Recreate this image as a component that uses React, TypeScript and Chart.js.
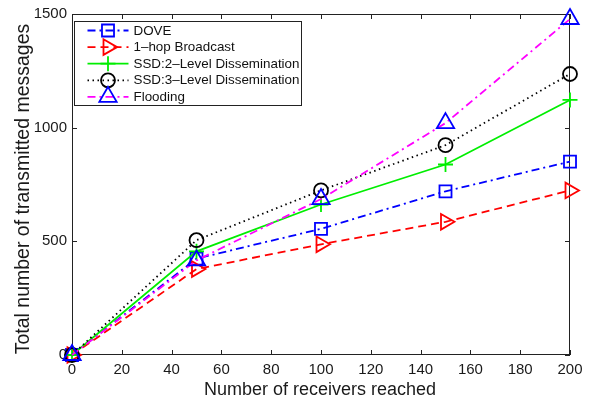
import React, { useEffect, useRef } from "react";
import Chart from "chart.js/auto";

const receivers = [0, 50, 100, 150, 200];
const doveMsgs = [0, 424, 555, 720, 851];
const oneHopMsgs = [0, 378, 487, 586, 724];
const ssd2Msgs = [0, 456, 662, 838, 1122];
const ssd3Msgs = [0, 505, 724, 923, 1236];
const floodingMsgs = [0, 416, 686, 1020, 1478];
const seriesLabels = [
  "DOVE",
  "1\u2013hop Broadcast",
  "SSD:2\u2013Level Dissemination",
  "SSD:3\u2013Level Dissemination",
  "Flooding",
];
const xTickValues = [0, 20, 40, 60, 80, 100, 120, 140, 160, 180, 200];
const yTickValues = [0, 500, 1000, 1500];
const xTitle = "Number of receivers reached";
const yTitle = "Total number of transmitted messages";

const FONT = "'Liberation Sans', Arial, Helvetica, sans-serif";

type SeriesStyle = {
  color: string;
  markerColor: string;
  dash: number[];
  pointStyle: string;
  radius: number;
  rotation: number;
};

const styles: SeriesStyle[] = [
  { color: "#0000ff", markerColor: "#0000ff", dash: [8, 4, 2, 4], pointStyle: "rect", radius: 8.5, rotation: 0 },
  { color: "#ff0000", markerColor: "#ff0000", dash: [8, 5], pointStyle: "triangle", radius: 9, rotation: 90 },
  { color: "#00ee00", markerColor: "#00ee00", dash: [], pointStyle: "cross", radius: 7.5, rotation: 0 },
  { color: "#000000", markerColor: "#000000", dash: [1.5, 3.5], pointStyle: "circle", radius: 7, rotation: 0 },
  { color: "#ff00ff", markerColor: "#0000ff", dash: [8, 4, 2, 4], pointStyle: "triangle", radius: 10, rotation: 0 },
];

function drawMarker(ctx: CanvasRenderingContext2D, s: SeriesStyle, x: number, y: number) {
  ctx.save();
  ctx.strokeStyle = s.markerColor;
  ctx.lineWidth = 1.8;
  ctx.setLineDash([]);
  ctx.beginPath();
  const r = s.radius;
  if (s.pointStyle === "rect") {
    const h = Math.SQRT1_2 * r;
    ctx.rect(x - h, y - h, 2 * h, 2 * h);
  } else if (s.pointStyle === "circle") {
    ctx.arc(x, y, r, 0, Math.PI * 2);
  } else if (s.pointStyle === "cross") {
    ctx.moveTo(x - r, y);
    ctx.lineTo(x + r, y);
    ctx.moveTo(x, y - r);
    ctx.lineTo(x, y + r);
  } else if (s.pointStyle === "triangle") {
    let rad = (s.rotation * Math.PI) / 180;
    ctx.moveTo(x + Math.sin(rad) * r, y - Math.cos(rad) * r);
    rad += (2 * Math.PI) / 3;
    ctx.lineTo(x + Math.sin(rad) * r, y - Math.cos(rad) * r);
    rad += (2 * Math.PI) / 3;
    ctx.lineTo(x + Math.sin(rad) * r, y - Math.cos(rad) * r);
    ctx.closePath();
  }
  ctx.stroke();
  ctx.restore();
}

const framePlugin = {
  id: "matlabFrame",
  beforeDatasetsDraw(chart: any) {
    const { ctx, chartArea: a, scales } = chart;
    ctx.save();
    ctx.strokeStyle = "#222";
    ctx.lineWidth = 1;
    ctx.setLineDash([]);
    ctx.strokeRect(a.left + 0.5, a.top + 0.5, a.right - a.left - 1, a.bottom - a.top - 1);
    const tl = 5;
    ctx.beginPath();
    xTickValues.forEach((v) => {
      const px = Math.round(scales.x.getPixelForValue(v)) + 0.5;
      ctx.moveTo(px, a.bottom);
      ctx.lineTo(px, a.bottom - tl);
      ctx.moveTo(px, a.top);
      ctx.lineTo(px, a.top + tl);
    });
    yTickValues.forEach((v) => {
      const py = Math.round(scales.y.getPixelForValue(v)) + 0.5;
      ctx.moveTo(a.left, py);
      ctx.lineTo(a.left + tl, py);
      ctx.moveTo(a.right, py);
      ctx.lineTo(a.right - tl, py);
    });
    ctx.stroke();
    ctx.restore();
  },
  afterDatasetsDraw(chart: any) {
    const { ctx, chartArea: a } = chart;
    ctx.save();
    const bx = a.left + 2.5;
    const by = a.top + 7.5;
    const bw = 227;
    const bh = 84;
    ctx.fillStyle = "#ffffff";
    ctx.fillRect(bx, by, bw, bh);
    ctx.strokeStyle = "#222";
    ctx.lineWidth = 1;
    ctx.setLineDash([]);
    ctx.strokeRect(bx, by, bw, bh);
    ctx.font = `13.4px ${FONT}`;
    ctx.textBaseline = "middle";
    ctx.textAlign = "left";
    seriesLabels.forEach((label, i) => {
      const s = styles[i];
      const cy = by + 9 + i * 16.6;
      const x0 = bx + 13;
      const x1 = bx + 54;
      ctx.save();
      ctx.strokeStyle = s.color;
      ctx.lineWidth = 1.8;
      ctx.setLineDash(s.dash);
      ctx.beginPath();
      ctx.moveTo(x0, cy);
      ctx.lineTo(x1, cy);
      ctx.stroke();
      ctx.restore();
      drawMarker(ctx, s, (x0 + x1) / 2, cy);
      ctx.fillStyle = "#111";
      ctx.fillText(label, bx + 59, cy + 0.5);
    });
    ctx.restore();
  },
  afterDraw(chart: any) {
    const { ctx, chartArea: a } = chart;
    ctx.save();
    ctx.fillStyle = "#1a1a1a";
    ctx.textAlign = "center";
    ctx.textBaseline = "middle";
    ctx.font = `18px ${FONT}`;
    ctx.fillText(xTitle, (a.left + a.right) / 2 - 1, 390);
    ctx.font = `19.5px ${FONT}`;
    ctx.translate(24, 189);
    ctx.rotate(-Math.PI / 2);
    ctx.fillText(yTitle, 0, 0);
    ctx.restore();
  },
};

export default function App() {
  const ref = useRef<HTMLCanvasElement | null>(null);
  useEffect(() => {
    document.body.style.margin = "0";
    const canvas = ref.current;
    if (!canvas) return;
    const seriesValues = [doveMsgs, oneHopMsgs, ssd2Msgs, ssd3Msgs, floodingMsgs];
    const datasets = seriesValues.map((vals, i) => {
      const s = styles[i];
      return {
        label: seriesLabels[i],
        data: receivers.map((x, j) => ({ x, y: vals[j] })),
        borderColor: s.color,
        borderWidth: 1.8,
        borderDash: s.dash,
        pointStyle: s.pointStyle,
        pointRadius: s.radius,
        pointRotation: s.rotation,
        pointBorderColor: s.markerColor,
        pointBackgroundColor: "rgba(0,0,0,0)",
        pointBorderWidth: 1.8,
        fill: false,
        tension: 0,
        clip: false,
        order: seriesValues.length - i,
      };
    });
    const chart = new Chart(canvas, {
      type: "line",
      data: { datasets: datasets as any },
      options: {
        responsive: false,
        animation: false,
        events: [],
        layout: { padding: { left: 0, top: 13, right: 24, bottom: 0 } },
        plugins: { legend: { display: false }, tooltip: { enabled: false }, title: { display: false } },
        scales: {
          x: {
            type: "linear",
            min: 0,
            max: 200,
            afterFit: (s: any) => {
              s.height = 47;
            },
            afterBuildTicks: (s: any) => {
              s.ticks = xTickValues.map((v) => ({ value: v }));
            },
            grid: { display: false, drawTicks: false },
            border: { display: false },
            ticks: {
              padding: 6,
              color: "#1a1a1a",
              font: { family: FONT, size: 15 },
              maxRotation: 0,
              autoSkip: false,
              callback: (v: any) => String(v),
            },
          },
          y: {
            type: "linear",
            min: 0,
            max: 1500,
            afterFit: (s: any) => {
              s.width = 72;
            },
            afterBuildTicks: (s: any) => {
              s.ticks = yTickValues.map((v) => ({ value: v }));
            },
            grid: { display: false, drawTicks: false },
            border: { display: false },
            ticks: {
              padding: 5,
              color: "#1a1a1a",
              font: { family: FONT, size: 15 },
              autoSkip: false,
              callback: (v: any) => String(v),
            },
          },
        },
      },
      plugins: [framePlugin],
    });
    return () => chart.destroy();
  }, []);
  return (
    <div style={{ width: 594, height: 402 }}>
      <canvas ref={ref} width={594} height={402} style={{ display: "block" }} />
    </div>
  );
}
